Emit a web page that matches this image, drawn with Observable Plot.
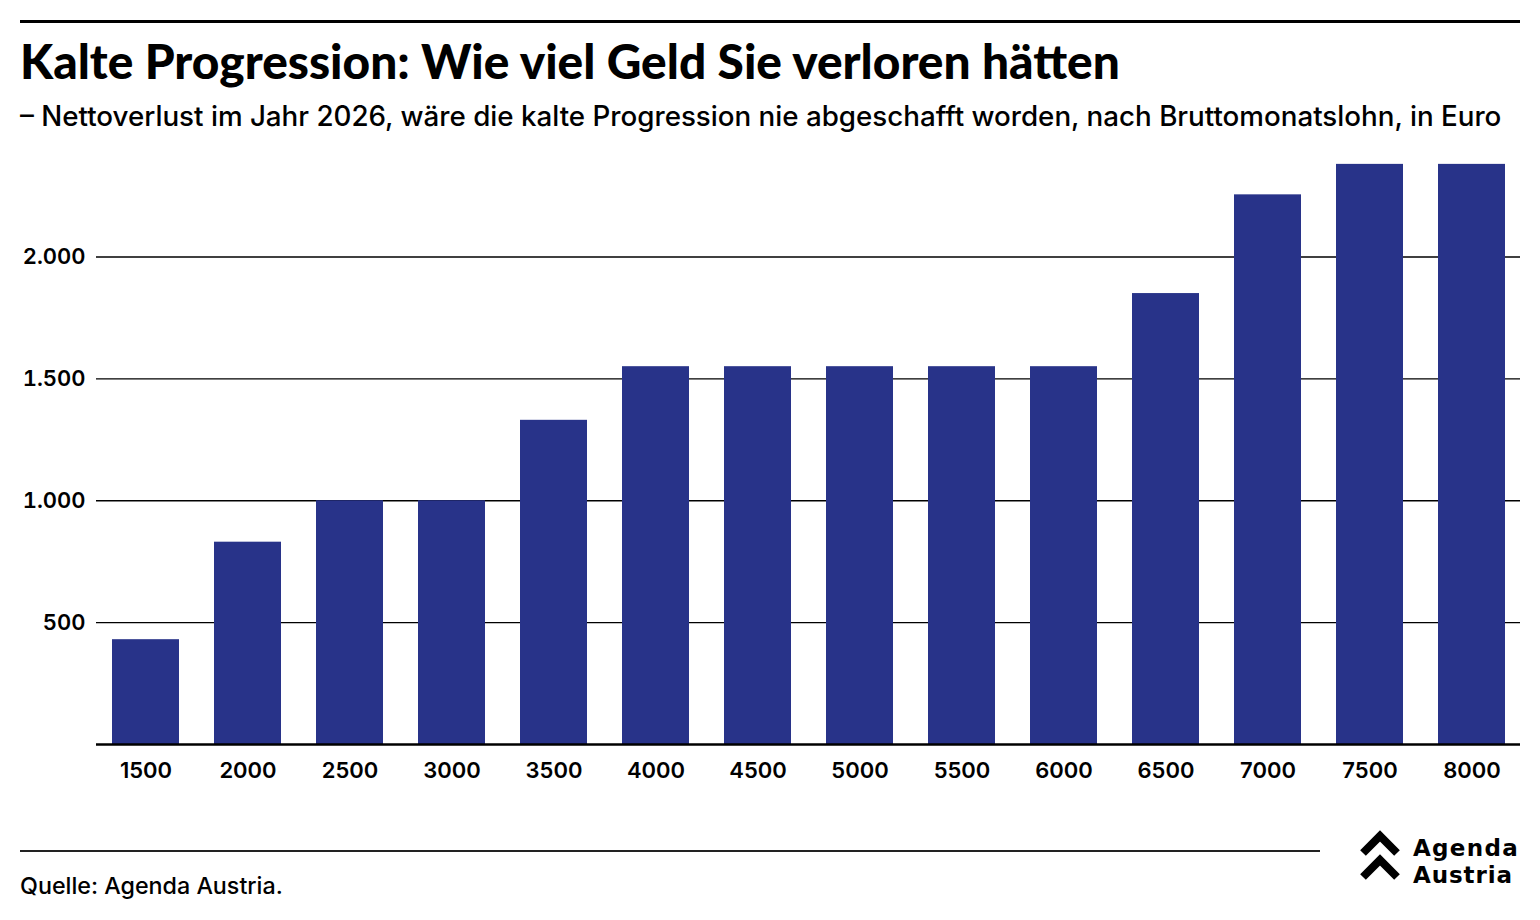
<!DOCTYPE html>
<html lang="de">
<head>
<meta charset="utf-8">
<script src="https://cdn.jsdelivr.net/npm/d3@7"></script>
<script src="https://cdn.jsdelivr.net/npm/@observablehq/plot@0.6"></script>
<style>
  html, body { margin: 0; padding: 0; background: #fff; }
  body { width: 1540px; height: 920px; position: relative; overflow: hidden; font-family: Inter, "Noto Sans", sans-serif; color: #000; }
  .abs { position: absolute; white-space: nowrap; line-height: 1; margin: 0; }
  #ruleTop { left: 20px; top: 20px; width: 1500px; height: 3px; background: #000; }
  #title { left: 20px; font-family: Lato, Inter, sans-serif; font-weight: 900; }
  #subtitle { left: 20px; font-weight: 500; }
  #chart { position: absolute; left: 0; top: 140px; }
  #ruleBottom { left: 20px; top: 850px; width: 1300px; height: 2px; background: #222; }
  #source { left: 20px; font-weight: 500; }
  .logoText { left: 1413px; font-family: "DejaVu Sans", Inter, sans-serif; font-weight: 700; }
  #logoMark { position: absolute; left: 0; top: 0; }
</style>
</head>
<body>
<div id="ruleTop" class="abs"></div>
<h1 id="title" class="abs">Kalte Progression: Wie viel Geld Sie verloren hätten</h1>
<p id="subtitle" class="abs">– Nettoverlust im Jahr 2026, wäre die kalte Progression nie abgeschafft worden, nach Bruttomonatslohn, in Euro</p>
<div id="chart"></div>
<div id="ruleBottom" class="abs"></div>
<p id="source" class="abs">Quelle: Agenda Austria.</p>
<svg id="logoMark" width="1540" height="920" aria-hidden="true" style="pointer-events:none">
  <polyline points="1363,853 1380,836 1397,853" fill="none" stroke="#000" stroke-width="8" stroke-linejoin="miter"/>
  <polyline points="1363,877 1380,860 1397,877" fill="none" stroke="#000" stroke-width="8" stroke-linejoin="miter"/>
</svg>
<div id="logo1" class="abs logoText">Agenda</div>
<div id="logo2" class="abs logoText">Austria</div>
<script>
// ---- data ----
const wages = ["1500", "2000", "2500", "3000", "3500", "4000", "4500", "5000", "5500", "6000", "6500", "7000", "7500", "8000"];
const losses = [430, 830, 1000, 1000, 1330, 1550, 1550, 1550, 1550, 1550, 1850, 2255, 2380, 2380];
const yTicks = [500, 1000, 1500, 2000];

const data = wages.map((w, i) => ({ wage: w, loss: losses[i] }));
const de = d3.formatLocale({ decimal: ",", thousands: ".", grouping: [3], currency: ["", " €"] });
const fmt = de.format(",");

const chart = Plot.plot({
  width: 1540,
  height: 660,
  marginLeft: 96,
  marginRight: 20,
  marginTop: 19,
  marginBottom: 56,
  style: { fontFamily: "Inter, sans-serif", color: "#000", background: "transparent" },
  x: { domain: wages, paddingInner: 0.344, paddingOuter: 0.147, label: null, axis: null },
  y: { domain: [0, 2400], label: null, axis: null },
  marks: [
    Plot.gridY(yTicks, { stroke: "#000", strokeOpacity: 1, strokeWidth: 1.3 }),
    Plot.barY(data, { x: "wage", y: "loss", fill: "#283389" }),
    Plot.ruleY([0], { stroke: "#000", strokeWidth: 2.4 }),
    Plot.axisX({ tickSize: 0, tickPadding: 18, fontSize: 22, fontWeight: 600, label: null }),
    Plot.axisY(yTicks, { tickSize: 0, tickPadding: 11, tickFormat: fmt, fontSize: 22, fontWeight: 600, label: null })
  ]
});
document.getElementById("chart").appendChild(chart);

// ---- text placement by baseline, width fitting ----
function place(id, fontSize, baseline, ascent, targetWidth) {
  const el = document.getElementById(id);
  el.style.fontSize = fontSize + "px";
  if (targetWidth) {
    const w = el.getBoundingClientRect().width;
    fontSize = fontSize * targetWidth / w;
    el.style.fontSize = fontSize + "px";
  }
  el.style.top = (baseline - ascent * fontSize) + "px";
}
place("title", 44, 79, 0.887, 1100);
place("subtitle", 26, 127, 0.864, 1482);
place("source", 22, 894, 0.864, 263);

// logo words (DejaVu Sans Bold metrics: ascent 0.928, descent 0.236)
function placeLogo(id, fs, baseline, targetWidth) {
  const el = document.getElementById(id);
  el.style.fontSize = fs + "px";
  const n = el.textContent.length;
  const w = el.getBoundingClientRect().width;
  el.style.letterSpacing = Math.max(-1, (targetWidth - w) / n) + "px";
  el.style.top = (baseline - (0.928 - (1.164 - 1) / 2) * fs) + "px";
}
placeLogo("logo1", 23, 856, 106);
placeLogo("logo2", 23, 883, 100);
</script>
</body>
</html>
